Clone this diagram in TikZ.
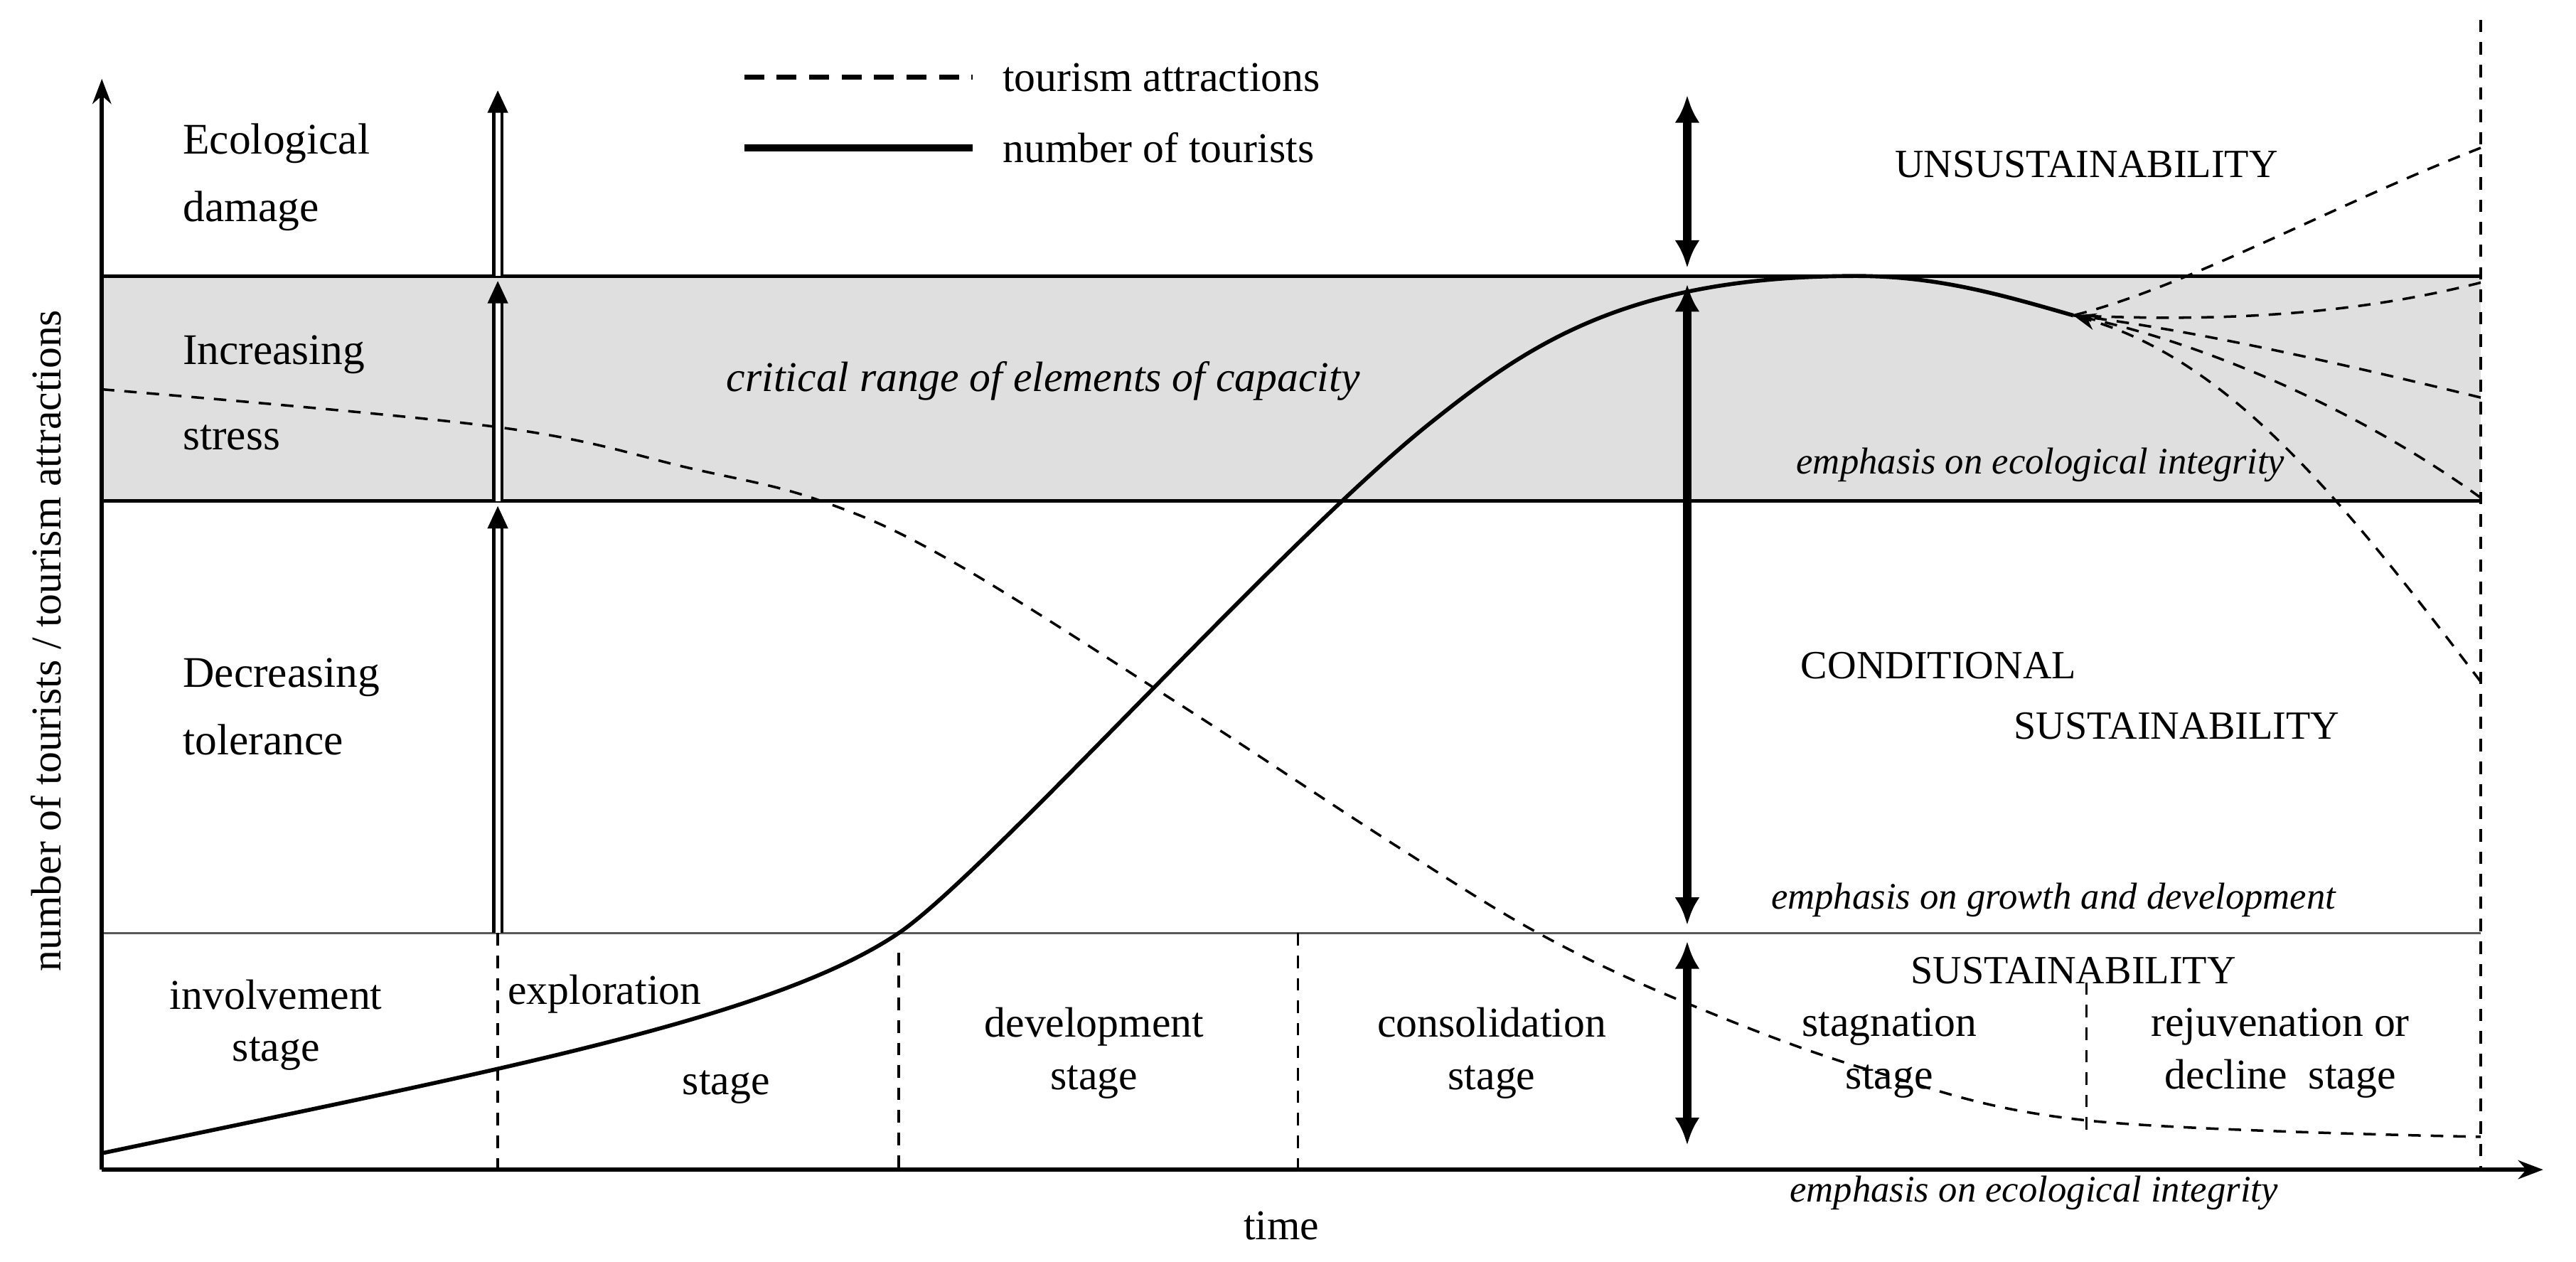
\documentclass[tikz,border=0pt]{standalone}
\usepackage{fontspec}
\setmainfont{Liberation Serif}
\usetikzlibrary{arrows.meta}
\begin{document}
\begin{tikzpicture}[x=0.02311cm,y=-0.02311cm,
  lbl/.style={font=\fontsize{17}{21}\selectfont,align=left},
  lblc/.style={font=\fontsize{17}{21}\selectfont,align=center},
  caps/.style={font=\fontsize{16}{20}\selectfont},
  emph/.style={font=\fontsize{15}{18}\selectfont\itshape},
  stg/.style={dashed,line width=1pt,dash pattern=on 5pt off 4pt},
  dbl/.style={double,double distance=2pt,line width=1.2pt,-{Triangle[length=9pt,width=8pt]}},
  big/.style={line width=3.2pt,{Latex[length=11pt,width=10pt]}-{Latex[length=11pt,width=10pt]}}]
\useasboundingbox (0,0) rectangle (1568,768);
% band
\fill[gray!25] (62,168) rectangle (1510,305);
\draw[line width=1.5pt] (62,168) -- (1510,168);
\draw[line width=1.5pt] (62,305) -- (1510,305);
\draw[line width=0.8pt,gray!70!black] (62,568) -- (1510,568);
% axes
\coordinate (O) at (62,712);
\coordinate (Ytop) at (62,48);
\coordinate (Xend) at (1548,712);
\draw[line width=1.6pt,-{Stealth[length=10pt]}] (O) -- (Ytop);
\draw[line width=1.6pt,-{Stealth[length=10pt]}] (O) -- (Xend);
\draw[stg] (1510,12) -- (1510,712);
% stage dividers
\draw[stg] (303,568) -- (303,712);
\draw[stg] (547,580) -- (547,712);
\draw[stg] (790,568) -- (790,712);
\draw[stg] (1270,598) -- (1270,690);
% double arrows at 303
\draw[dbl] (303,568) -- (303,308);
\draw[dbl] (303,305) -- (303,171);
\draw[dbl] (303,168) -- (303,55);
% big arrows at 1027
\draw[big] (1027,58) -- (1027,163);
\draw[big] (1027,173) -- (1027,563);
\draw[big] (1027,573) -- (1027,697);
% curves
\coordinate (C) at (1262,192);
\draw[line width=1.6pt] (62,702) .. controls (300,652) and (470,620) .. (547,568)
  .. controls (600,532) and (780,330) .. (870,258)
  .. controls (930,210) and (990,168) .. (1130,168)
  .. controls (1180,168) and (1220,180) .. (C);
\draw[stg] plot[smooth,tension=0.6] coordinates {(62,237) (303,260) (420,285) (500,305) (580,342) (720,430) (850,515) (940,570) (1030,612) (1140,652) (1270,682) (1510,692)};
\draw[stg] (1510,90) .. controls (1420,125) and (1330,175) .. (C);
\draw[stg] (1510,172) .. controls (1420,195) and (1330,195) .. (C);
\draw[stg] (1510,242) .. controls (1420,220) and (1330,200) .. (C);
\draw[stg] (1510,303) .. controls (1430,245) and (1330,205) .. (C);
\draw[stg,-{Stealth[length=9pt]}] (1510,415) .. controls (1430,310) and (1360,220) .. (C);
% legend
\draw[stg,line width=2pt,dash pattern=on 8pt off 5pt] (453,47) -- (592,47);
\node[lbl,anchor=west] (l1) at (605,47) {tourism attractions};
\draw[line width=3pt] (453,90) -- (592,90);
\node[lbl,anchor=west] (l2) at (605,90) {number of tourists};
% left texts
\node[lbl,anchor=west,font=\fontsize{17.5}{27}\selectfont] (t1) at (106,108) {Ecological\\damage};
\node[lbl,anchor=west,font=\fontsize{17.5}{34}\selectfont] (t2) at (106,239) {Increasing\\stress};
\node[lbl,anchor=west,font=\fontsize{17.5}{27}\selectfont] (t3) at (106,430) {Decreasing\\tolerance};
% stages
\node[lblc] (s1) at (168,624) {involvement\\stage};
\node[lbl] (s2) at (368,605) {exploration};
\node[lbl] (s2b) at (442,662) {stage};
\node[lblc] (s3) at (666,641) {development\\stage};
\node[lblc] (s4) at (908,641) {consolidation\\stage};
\node[lblc] (s5) at (1150,641) {stagnation\\stage};
\node[lblc] (s6) at (1388,641) {rejuvenation or\\decline~ stage};
% zone labels
\node[caps] (z1) at (1270,100) {UNSUSTAINABILITY};
\node[caps] (z2) at (1180,405) {CONDITIONAL};
\node[caps] (z3) at (1325,442) {SUSTAINABILITY};
\node[caps] (z4) at (1262,591) {SUSTAINABILITY};
% italics
\node[font=\fontsize{17}{20}\selectfont\itshape] (e0) at (635,232) {critical range of elements of capacity};
\node[emph] (e1) at (1242,283) {emphasis on ecological integrity};
\node[emph] (e2) at (1250,548) {emphasis on growth and development};
\node[emph] (e3) at (1238,726) {emphasis on ecological integrity};
% axis labels
\node[lbl] (xl) at (780,746) {time};
\node[lbl,rotate=90] (yl) at (28,390) {number of tourists / tourism attractions};
\end{tikzpicture}
\end{document}
